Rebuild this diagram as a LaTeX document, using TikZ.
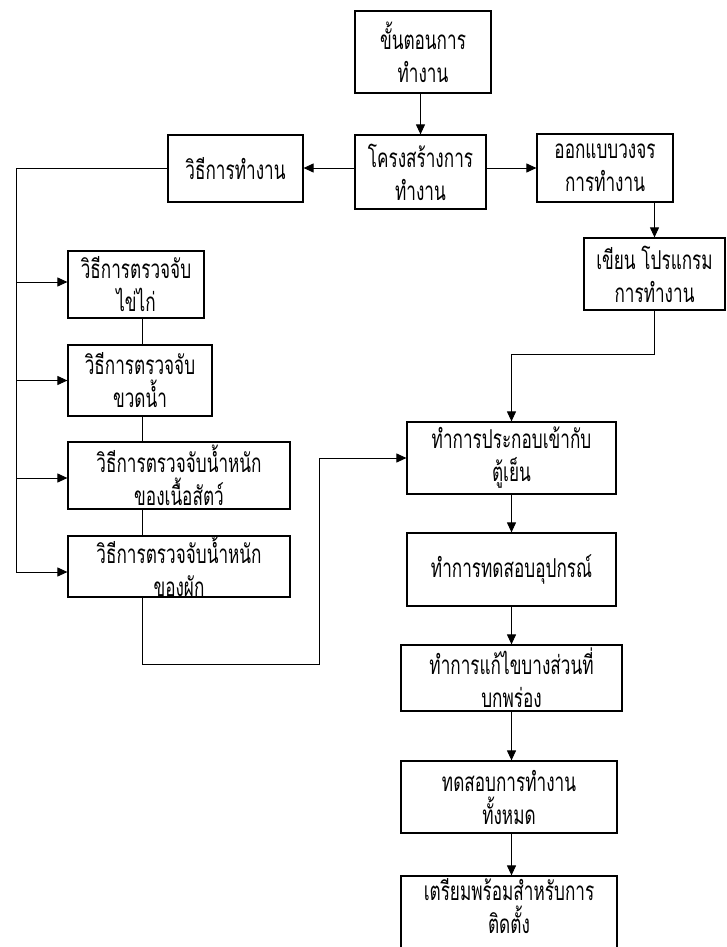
\documentclass[tikz,border=0pt]{standalone}
\usepackage{fontspec}
\newfontfamily\thaifont[Script=Thai,FakeStretch=0.66]{Loma}
\usetikzlibrary{arrows.meta}
\begin{document}
\begin{tikzpicture}[x=1pt,y=-1pt,
  box/.style={draw,line width=1.2pt,align=center,inner sep=0pt,
    font=\thaifont\fontsize{26}{33}\selectfont},
  conn/.style={line width=1pt},
  arr/.style={conn,-{Triangle[length=10pt,width=9pt]}}]
\useasboundingbox (0,0) rectangle (726,947);
% right / top column
\node[box,minimum width=136pt,minimum height=82pt] (b1) at (423,52) {ขั้นตอนการ\\ทำงาน};
\node[box,minimum width=131pt,minimum height=74pt] (b2) at (420.5,172) {โครงสร้างการ\\ทำงาน};
\node[box,minimum width=135pt,minimum height=67pt] (b3) at (235.5,168.5) {วิธีการทำงาน};
\node[box,minimum width=136pt,minimum height=68pt] (b4) at (605,168) {ออกแบบวงจร\\การทำงาน};
\node[box,minimum width=141pt,minimum height=72pt] (b5) at (654.5,274) {เขียน โปรแกรม\\การทำงาน};
\node[box,minimum width=209pt,minimum height=72pt] (b6) at (511.5,458) {ทำการประกอบเข้ากับ\\ตู้เย็น};
\node[box,minimum width=209pt,minimum height=73pt] (b7) at (511.5,569.5) {ทำการทดสอบอุปกรณ์};
\node[box,minimum width=221pt,minimum height=66pt] (b8) at (511.5,678) {ทำการแก้ไขบางส่วนที่\\บกพร่อง};
\node[box,minimum width=216pt,minimum height=72pt] (b9) at (509,797) {ทดสอบการทำงาน\\ทั้งหมด};
\node[box,minimum width=216pt,minimum height=74pt,text depth=0pt] (b10) at (509,913) {};
\node[font=\thaifont\fontsize{26}{33}\selectfont,align=center,inner sep=0pt] (b10t) at (509,906) {เตรียมพร้อมสำหรับการ\\ติดตั้ง};
% left column
\node[box,minimum width=136pt,minimum height=67pt] (A) at (136,284.5) {วิธีการตรวจจับ\\ไข่ไก่};
\node[box,minimum width=144pt,minimum height=71pt] (B) at (140,380.5) {วิธีการตรวจจับ\\ขวดน้ำ};
\node[box,minimum width=222pt,minimum height=67pt] (C) at (179,475.5) {วิธีการตรวจจับน้ำหนัก\\ของเนื้อสัตว์};
\node[box,minimum width=222pt,minimum height=61pt] (D) at (179,566.5) {วิธีการตรวจจับน้ำหนัก\\ของผัก};
% helper coordinates
\coordinate (bus) at (16,168);
\coordinate (cx) at (142,0);
\coordinate (lp) at (319,664);
\coordinate (Aw) at ([yshift=2.5pt]A.west);
\coordinate (Bw) at (B.west);
\coordinate (Cw) at ([yshift=-2.5pt]C.west);
\coordinate (Dw) at ([yshift=-5.5pt]D.west);
\coordinate (hy) at (0,168);
% connectors
\draw[arr] (b1.south -| b2.north) -- (b2.north);
\draw[arr] (b2.west |- hy) -- (b3.east |- hy);
\draw[arr] (b2.east |- hy) -- (b4.west |- hy);
\draw[arr] (b5.north |- b4.south) -- (b5.north);
\draw[arr] (b5.south) -- ++(0,44) -| (b6.north);
\draw[arr] (b6.south) -- (b6.south |- b7.north);
\draw[arr] (b7.south) -- (b7.south |- b8.north);
\draw[arr] (b8.south) -- (b8.south |- b9.north);
\draw[arr] (b8.south |- b9.south) -- (b8.south |- b10.north);
% left bus
\draw[conn] (b3.west |- hy) -- (bus) -- (bus |- Dw);
\draw[arr] (Aw -| bus) -- (Aw);
\draw[arr] (Bw -| bus) -- (Bw);
\draw[arr] (Cw -| bus) -- (Cw);
\draw[arr] (Dw -| bus) -- (Dw);
\draw[conn] (A.south -| cx) -- (B.north -| cx);
\draw[conn] (B.south -| cx) -- (C.north -| cx);
\draw[conn] (C.south -| cx) -- (D.north -| cx);
\draw[arr] (D.south -| cx) |- (lp) |- (b6.west);
\end{tikzpicture}
\end{document}
